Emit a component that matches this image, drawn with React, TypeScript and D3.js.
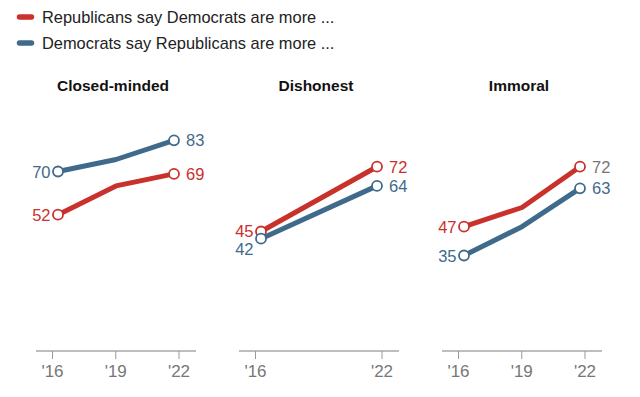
import React from "react";
import * as d3 from "d3";

const legendLabels = ["Republicans say Democrats are more ...", "Democrats say Republicans are more ..."];
const titles = ["Closed-minded", "Dishonest", "Immoral"];
const tickYears = [[2016, 2019, 2022], [2016, 2022], [2016, 2019, 2022]];
const tickLabels = [["'16", "'19", "'22"], ["'16", "'22"], ["'16", "'19", "'22"]];

const closedYears = [2016, 2019, 2022];
const closedRep = [52, 64, 69];
const closedDem = [70, 75, 83];

const dishonestYears = [2016, 2022];
const dishonestRep = [45, 72];
const dishonestDem = [42, 64];

const immoralYears = [2016, 2019, 2022];
const immoralRep = [47, 55, 72];
const immoralDem = [35, 47, 63];

const RED = "#c9312b";
const BLUE = "#3f6a8b";
const GRAY = "#777777";
const FONT = "'Liberation Sans', Arial, sans-serif";

const panels = [
  { years: closedYears, rep: closedRep, dem: closedDem },
  { years: dishonestYears, rep: dishonestRep, dem: dishonestDem },
  { years: immoralYears, rep: immoralRep, dem: immoralDem },
];

export default function App() {
  const W = 640, H = 397;
  const y = d3.scaleLinear().domain([0, 100]).range([339.5, 99.5]);
  const axisY = 351;
  const panelStep = 203, panelX0 = 36, panelW = 160;
  const line = d3.line<[number, number]>().x(d => d[0]).y(d => d[1]);

  return (
    <svg width={W} height={H} style={{ position: "absolute", left: 0, top: 0, background: "#fff" }} fontFamily={FONT}>
      {legendLabels.map((t, i) => (
        <g key={t}>
          <line x1={19.5} x2={31.5} y1={17 + i * 26} y2={17 + i * 26} stroke={i === 0 ? RED : BLUE} strokeWidth={5.5} strokeLinecap="round" />
          <text x={42} y={17 + i * 26} dominantBaseline="central" fontSize={16.4} fill="#222">{t}</text>
        </g>
      ))}
      {panels.map((p, pi) => {
        const ox = panelX0 + pi * panelStep;
        const xTick = d3.scaleLinear().domain([2016, 2022]).range([ox + 16.5, ox + 143]);
        const xPt = d3.scaleLinear().domain([2016, 2022]).range([ox + 22, ox + 138]);
        const series = [
          { vals: p.rep, color: RED },
          { vals: p.dem, color: BLUE },
        ];
        const n = p.years.length;
        const startYs = series.map(s => y(s.vals[0]));
        const startLabelY = startYs.slice();
        if (Math.abs(startYs[0] - startYs[1]) < 14) {
          const lo = startYs[0] > startYs[1] ? 0 : 1;
          const hi = 1 - lo;
          startLabelY[hi] = startYs[hi] - 1;
          startLabelY[lo] = startYs[hi] + 17;
        }
        return (
          <g key={pi}>
            <text x={ox + 77} y={85} dominantBaseline="central" textAnchor="middle" fontWeight="bold" fontSize={15.5} fill="#111">{titles[pi]}</text>
            <line x1={ox} x2={ox + panelW} y1={axisY} y2={axisY} stroke="#bdbdbd" strokeWidth={2} />
            {tickYears[pi].map((yr, ti) => (
              <g key={yr}>
                <line x1={xTick(yr)} x2={xTick(yr)} y1={axisY} y2={axisY + 8} stroke="#999" strokeWidth={1} />
                <text x={xTick(yr)} y={377} textAnchor="middle" fontSize={17} fill={GRAY}>{tickLabels[pi][ti]}</text>
              </g>
            ))}
            {series.map((s, si) => {
              const pts: [number, number][] = p.years.map((yr, k) => [xPt(yr), y(s.vals[k])]);
              return (
                <g key={si}>
                  <path d={line(pts) || ""} fill="none" stroke={s.color} strokeWidth={5} strokeLinejoin="round" />
                  {[0, n - 1].map(k => (
                    <circle key={k} cx={pts[k][0]} cy={pts[k][1]} r={5} fill="#fff" stroke={s.color} strokeWidth={1.8} />
                  ))}
                  <text x={pts[0][0] - 7.5} y={startLabelY[si]} dominantBaseline="central" textAnchor="end" fontSize={16.5} fill={s.color}>{s.vals[0]}</text>
                  <text x={pts[n - 1][0] + 12} y={pts[n - 1][1]} dominantBaseline="central" textAnchor="start" fontSize={16.5}
                    fill={pi === 2 && si === 0 ? GRAY : s.color}>{s.vals[n - 1]}</text>
                </g>
              );
            })}
          </g>
        );
      })}
    </svg>
  );
}
